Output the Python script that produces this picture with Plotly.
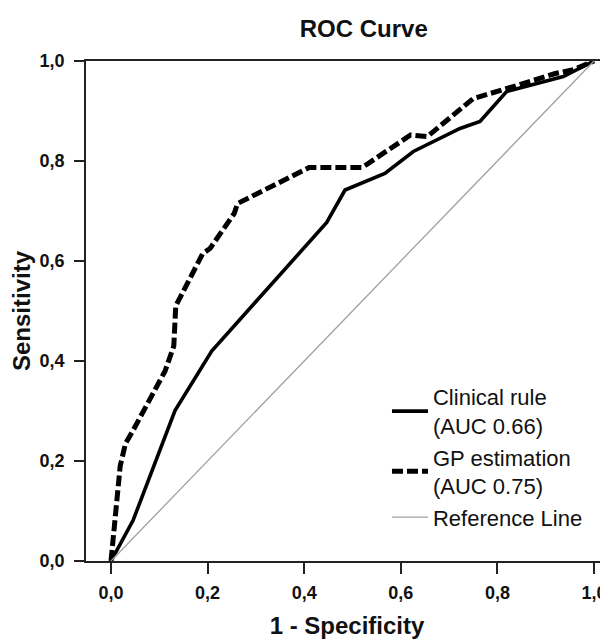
import plotly.graph_objects as go

# Clinical rule ROC curve (solid)
clin_x = [0, 0.046, 0.1325, 0.2085, 0.4466, 0.4845, 0.567, 0.626, 0.7226, 0.764, 0.819, 0.9365, 1.0]
clin_y = [0, 0.082, 0.301, 0.42, 0.677, 0.742, 0.775, 0.819, 0.865, 0.879, 0.939, 0.969, 1.0]

# GP estimation ROC curve (dashed)
gp_x = [0, 0.006, 0.019, 0.03, 0.045, 0.112, 0.13, 0.134, 0.15, 0.19, 0.205, 0.255, 0.262,
        0.41, 0.52, 0.62, 0.655, 0.75, 0.82, 0.92, 0.955, 1.0]
gp_y = [0, 0.06, 0.19, 0.235, 0.26, 0.38, 0.43, 0.51, 0.54, 0.615, 0.625, 0.695, 0.715,
        0.787, 0.787, 0.852, 0.849, 0.925, 0.945, 0.975, 0.982, 1.0]

# Reference diagonal
ref_x = [0, 1]
ref_y = [0, 1]

tick_vals = [0, 0.2, 0.4, 0.6, 0.8, 1.0]
tick_text = ["0,0", "0,2", "0,4", "0,6", "0,8", "1,0"]

names = ["Clinical rule<br>(AUC 0.66)", "GP estimation<br>(AUC 0.75)", "Reference Line"]

FONT = "Liberation Sans, Arial, sans-serif"
INK = "#111111"

fig = go.Figure()
fig.add_trace(go.Scatter(x=clin_x, y=clin_y, mode="lines", name=names[0],
                         line=dict(color="#000000", width=3.6)))
fig.add_trace(go.Scatter(x=gp_x, y=gp_y, mode="lines", name=names[1],
                         line=dict(color="#000000", width=5, dash="11px,4px")))
fig.add_trace(go.Scatter(x=ref_x, y=ref_y, mode="lines", name=names[2],
                         line=dict(color="#a0a0a0", width=1.3)))

# The page body adds an 8px offset, so the figure is 8px smaller on each axis.
fig.update_layout(
    width=600, height=633,
    margin=dict(l=78, r=0, t=53, b=80),
    paper_bgcolor="white", plot_bgcolor="white",
    font=dict(family=FONT, color=INK),
    title=dict(text="<b>ROC Curve</b>", x=0.593, xref="container", xanchor="center",
               y=0.968, yref="container", yanchor="middle",
               font=dict(size=24, family=FONT, color=INK)),
    showlegend=True,
    legend=dict(x=0.5766, y=0.37, xanchor="left", yanchor="top",
                bgcolor="rgba(0,0,0,0)", itemwidth=36,
                font=dict(size=22, family=FONT, color=INK),
                tracegroupgap=0),
    xaxis=dict(range=[-0.0518, 1.029], tickvals=tick_vals, ticktext=tick_text,
               showgrid=False, zeroline=False, showline=True, linecolor="#222222",
               linewidth=1.5, mirror=True, ticks="outside", ticklen=11, tickwidth=1.5,
               tickcolor="#222222", ticklabelstandoff=4,
               tickfont=dict(size=18, family=FONT, weight="bold", color=INK),
               title=dict(text="<b>1 - Specificity</b>", standoff=15,
                          font=dict(size=24, family=FONT, color=INK))),
    yaxis=dict(range=[0, 1], tickvals=tick_vals, ticktext=tick_text,
               showgrid=False, zeroline=False, showline=True, linecolor="#222222",
               linewidth=1.5, ticks="outside", ticklen=10, tickwidth=1.5,
               tickcolor="#222222", ticklabelstandoff=6,
               tickfont=dict(size=18, family=FONT, weight="bold", color=INK),
               title=dict(text="<b>Sensitivity</b>", standoff=4,
                          font=dict(size=24, family=FONT, color=INK))),
)

fig.write_html("out.html")
